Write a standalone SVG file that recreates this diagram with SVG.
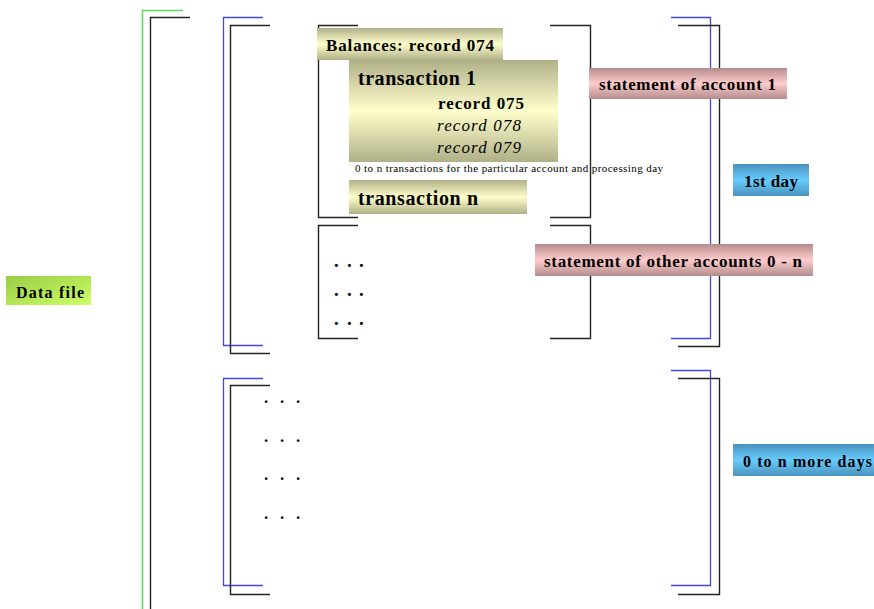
<svg xmlns="http://www.w3.org/2000/svg" width="874" height="609" viewBox="0 0 874 609">
<defs>
<linearGradient id="khaki" x1="0" y1="0" x2="0" y2="1">
<stop offset="0" stop-color="#B0B088"/><stop offset="0.5" stop-color="#FFFFCC"/><stop offset="1" stop-color="#B0B088"/>
</linearGradient>
<linearGradient id="pink" x1="0" y1="0" x2="0" y2="1">
<stop offset="0" stop-color="#B48C8C"/><stop offset="0.5" stop-color="#FFCCCC"/><stop offset="1" stop-color="#B48C8C"/>
</linearGradient>
<linearGradient id="blue" x1="0" y1="0" x2="0" y2="1">
<stop offset="0" stop-color="#4A92BC"/><stop offset="0.5" stop-color="#66CCFF"/><stop offset="1" stop-color="#4A92BC"/>
</linearGradient>
<linearGradient id="green" x1="0" y1="0" x2="1" y2="1">
<stop offset="0" stop-color="#99CC44"/><stop offset="1" stop-color="#CCFF66"/>
</linearGradient>
</defs>
<style>
.bk{fill:none;stroke:#222;stroke-width:1.4}
.bl{fill:none;stroke:#4646E6;stroke-width:1.3}
.gr{fill:none;stroke:#5EDD5E;stroke-width:1.6}
.t{font-family:"Liberation Serif","Times New Roman",serif;font-weight:bold;fill:#000}
.i{font-family:"Liberation Serif","Times New Roman",serif;font-style:italic;fill:#000}
.s{font-family:"Liberation Serif","Times New Roman",serif;fill:#000}
</style>
<g id="connectors">
<path class="gr" d="M183,10.5 H142.5 V609"/>
<path class="bk" d="M190,17.5 H150.5 V609"/>
<path class="bl" d="M263,17.5 H223.5 V345.5 H263"/>
<path class="bk" d="M270,25.5 H230.5 V353.5 H270"/>
<path class="bl" d="M263,378.5 H223.5 V585.5 H263"/>
<path class="bk" d="M270,385.5 H230.5 V594.5 H270"/>
<path class="bk" d="M358,25.5 H318.5 V217.5 H358"/>
<path class="bk" d="M550,25.5 H590.5 V217.5 H550"/>
<path class="bk" d="M358,225.5 H318.5 V338.5 H358"/>
<path class="bk" d="M550,225.5 H590.5 V338.5 H550"/>
<path class="bl" d="M671,17.5 H710.5 V338.5 H671"/>
<path class="bk" d="M678,25.5 H719.5 V346.5 H678"/>
<path class="bl" d="M671,370.5 H710.5 V585.5 H671"/>
<path class="bk" d="M678,378.5 H719.5 V594.5 H678"/>
</g>
<g id="balances">
<rect x="317" y="28" width="186" height="32" fill="url(#khaki)"/>
<text class="t" x="326" y="51" font-size="17" textLength="168" lengthAdjust="spacing">Balances: record 074</text>
</g>
<g id="transaction1">
<rect x="349" y="60" width="209" height="102" fill="url(#khaki)"/>
<text class="t" x="358" y="85" font-size="20" textLength="118" lengthAdjust="spacing">transaction 1</text>
<text class="t" x="438" y="109" font-size="17" textLength="86" lengthAdjust="spacing">record 075</text>
<text class="i" x="437" y="131" font-size="17" textLength="84" lengthAdjust="spacing">record 078</text>
<text class="i" x="437" y="153" font-size="17" textLength="84" lengthAdjust="spacing">record 079</text>
</g>
<g id="note">
<text class="s" x="355" y="172" font-size="11" textLength="308" lengthAdjust="spacing">0 to n transactions for the particular account and processing day</text>
</g>
<g id="transactionn">
<rect x="349" y="180" width="178" height="34" fill="url(#khaki)"/>
<text class="t" x="358" y="205" font-size="20" textLength="120" lengthAdjust="spacing">transaction n</text>
</g>
<g id="dots1">
<text class="t" font-size="19" x="334 347 359" y="267">...</text>
<text class="t" font-size="19" x="334 347 359" y="296">...</text>
<text class="t" font-size="19" x="334 347 359" y="325">...</text>
</g>
<g id="dots2">
<text class="t" font-size="17" x="264 280 296" y="403">...</text>
<text class="t" font-size="17" x="264 280 296" y="442">...</text>
<text class="t" font-size="17" x="264 280 296" y="480">...</text>
<text class="t" font-size="17" x="264 280 296" y="519">...</text>
</g>
<g id="stmt1">
<rect x="589" y="68" width="198" height="31" fill="url(#pink)"/>
<text class="t" x="599" y="90" font-size="17" textLength="177" lengthAdjust="spacing">statement of account 1</text>
</g>
<g id="stmtOther">
<rect x="535" y="244" width="278" height="32" fill="url(#pink)"/>
<text class="t" x="544" y="267" font-size="17" textLength="258" lengthAdjust="spacing">statement of other accounts 0 - n</text>
</g>
<g id="day1">
<rect x="733" y="164" width="76" height="32" fill="url(#blue)"/>
<text class="t" x="744" y="187" font-size="17" textLength="54" lengthAdjust="spacing">1st day</text>
</g>
<g id="moreDays">
<rect x="733" y="444" width="141" height="32" fill="url(#blue)"/>
<text class="t" x="743" y="467" font-size="16" textLength="129" lengthAdjust="spacing">0 to n more days</text>
</g>
<g id="dataFile">
<rect x="6" y="276" width="85" height="29" fill="url(#green)"/>
<text class="t" x="16" y="298" font-size="16" textLength="68" lengthAdjust="spacing">Data file</text>
</g>
</svg>
